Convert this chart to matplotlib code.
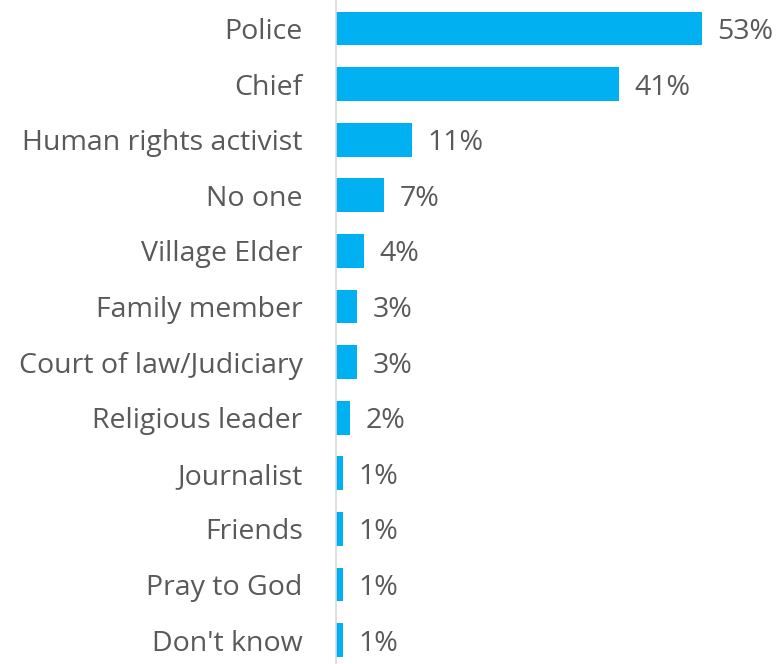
import matplotlib.pyplot as plt

# Data
categories = ['Police', 'Chief', 'Human rights activist', 'No one', 'Village Elder',
              'Family member', 'Court of law/Judiciary', 'Religious leader',
              'Journalist', 'Friends', 'Pray to God', "Don't know"]
values = [53, 41, 11, 7, 4, 3, 3, 2, 1, 1, 1, 1]

plt.rcParams['font.family'] = ['Open Sans', 'DejaVu Sans']

fig = plt.figure(figsize=(7.81, 6.64), dpi=100)
ax = fig.add_axes([336 / 781, 0, 445 / 781, 1])

y = list(range(len(categories)))
ax.barh(y, values, height=0.61, color='#00B0F0')

# Value labels to the right of each bar
for yi, v in zip(y, values):
    ax.text(v + 2.3, yi, f'{v}%', va='center_baseline', ha='left',
            fontsize=20.5, color='#595959')

ax.set_yticks(y)
ax.set_yticklabels(categories, fontsize=20.5, color='#595959')
ax.tick_params(axis='y', length=0, pad=24)
ax.set_xticks([])
ax.set_xlim(0, 445 / 6.9)
ax.set_ylim(11.43, -0.513)

for side in ['top', 'right', 'bottom']:
    ax.spines[side].set_visible(False)
ax.spines['left'].set_color('#D9D9D9')
ax.spines['left'].set_linewidth(1.2)

fig.savefig('out.png', dpi=100)
